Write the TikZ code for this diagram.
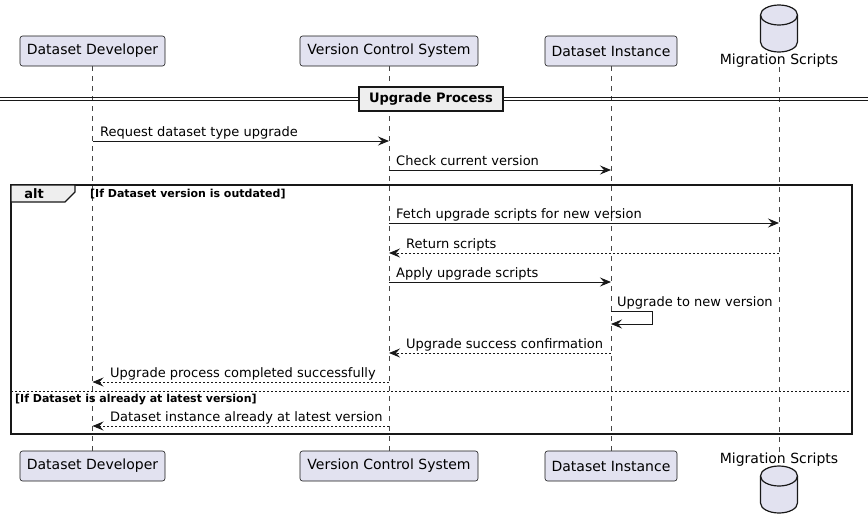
\documentclass[tikz,border=0pt]{standalone}
\usepackage{fontspec}
\setmainfont{DejaVu Sans}
\usetikzlibrary{arrows.meta}
\definecolor{partfill}{HTML}{E2E2F0}
\definecolor{ink}{HTML}{181818}
\definecolor{grp}{HTML}{EEEEEE}
\tikzset{
  part/.style={draw=ink, fill=partfill, rounded corners=2.5pt, line width=0.6pt, minimum height=30pt, inner sep=0pt, font=\fontsize{14}{16}\selectfont},
  life/.style={draw=ink!80, line width=0.5pt, dash pattern=on 5pt off 5pt},
  msg/.style={draw=ink, line width=0.9pt, -{Stealth[length=11pt,width=9pt,inset=4pt]}},
  rmsg/.style={msg, dash pattern=on 2pt off 2pt},
  lbl/.style={anchor=base west, inner sep=0pt, font=\fontsize{13}{15}\selectfont},
  cond/.style={anchor=base west, inner sep=0pt, font=\bfseries\fontsize{11}{13}\selectfont},
  frame/.style={draw=ink, line width=1.5pt},
  dbtext/.style={inner sep=0pt, font=\fontsize{14}{16}\selectfont},
}
\newcommand{\dbshape}[2]{% center x, top y
  \filldraw[draw=ink, fill=partfill, line width=1.2pt]
    (#1-18.5,#2+10) -- (#1-18.5,#2+37) arc[start angle=180,end angle=360,x radius=18.5,y radius=-10]
    -- (#1+18.5,#2+10) arc[start angle=0,end angle=180,x radius=18.5,y radius=-10] -- cycle;
  \draw[ink, line width=1.2pt] (#1-18.5,#2+10) arc[start angle=180,end angle=360,x radius=18.5,y radius=-10];
}
\begin{document}
\begin{tikzpicture}[x=1pt,y=-1pt]
\useasboundingbox (0,0) rectangle (868,528);
% participants top
\node[part, minimum width=145pt] (dd) at (92.5,51) {Dataset Developer};
\node[part, minimum width=178pt] (vcs) at (389,51) {Version Control System};
\node[part, minimum width=132pt] (di) at (611,51) {Dataset Instance};
\dbshape{779}{5}
\node[dbtext] (ms) at (779,60.5) {Migration Scripts};
% participants bottom
\node[part, minimum width=145pt] (ddb) at (92.5,466) {Dataset Developer};
\node[part, minimum width=178pt] (vcsb) at (389,466) {Version Control System};
\node[part, minimum width=132pt] (dib) at (611,466) {Dataset Instance};
\node[dbtext] (msb) at (779,460) {Migration Scripts};
\dbshape{779}{466}
% lifelines
\draw[life] (dd.south) -- (ddb.north);
\draw[life] (vcs.south) -- (vcsb.north);
\draw[life] (di.south) -- (dib.north);
\draw[life] (ms.south) -- (msb.north);
% divider
\draw[ink, line width=1pt] (0,97.5) -- (868,97.5);
\draw[ink, line width=1pt] (0,100.5) -- (868,100.5);
\node[draw=ink, fill=grp, line width=1.5pt, minimum width=144pt, minimum height=24pt, inner sep=0pt, font=\bfseries\fontsize{13}{15}\selectfont] (div) at (431,99) {Upgrade Process};
% alt frame
\draw[frame] (11,185) rectangle (852,434);
\filldraw[frame, fill=grp, line width=1.2pt] (11,185) -- (75,185) -- (75,192) -- (65,202) -- (11,202) -- cycle;
\node[inner sep=0pt, font=\bfseries\fontsize{13}{15}\selectfont] (alt) at (34,194) {alt};
\node[cond] (c1) at (90,197.5) {[If Dataset version is outdated]};
\draw[ink, line width=0.8pt, dash pattern=on 2pt off 2pt] (11,391) -- (852,391);
\node[cond] (c2) at (15,402) {[If Dataset is already at latest version]};
% messages
\draw[msg] (dd.south |- 0,141) -- (vcs.south |- 0,141);
\node[lbl] (m1) at (100,136) {Request dataset type upgrade};
\draw[msg] (vcs.south |- 0,170) -- (di.south |- 0,170);
\node[lbl] (m2) at (396,165) {Check current version};
\draw[msg] (vcs.south |- 0,223) -- (ms.south |- 0,223);
\node[lbl] (m3) at (396,218) {Fetch upgrade scripts for new version};
\draw[rmsg] (ms.south |- 0,253) -- (vcs.south |- 0,253);
\node[lbl] (m4) at (406,248) {Return scripts};
\draw[msg] (vcs.south |- 0,282) -- (di.south |- 0,282);
\node[lbl] (m5) at (396,277) {Apply upgrade scripts};
\draw[msg] (di.south |- 0,311) -- (652,311) -- (652,324) -- (di.south |- 0,324);
\node[lbl] (m6) at (617,306) {Upgrade to new version};
\draw[rmsg] (di.south |- 0,353) -- (vcs.south |- 0,353);
\node[lbl] (m7) at (406,348) {Upgrade success confirmation};
\draw[rmsg] (vcs.south |- 0,382) -- (dd.south |- 0,382);
\node[lbl] (m8) at (110,377) {Upgrade process completed successfully};
\draw[rmsg] (vcs.south |- 0,426) -- (dd.south |- 0,426);
\node[lbl] (m9) at (110,421) {Dataset instance already at latest version};
\end{tikzpicture}
\end{document}
